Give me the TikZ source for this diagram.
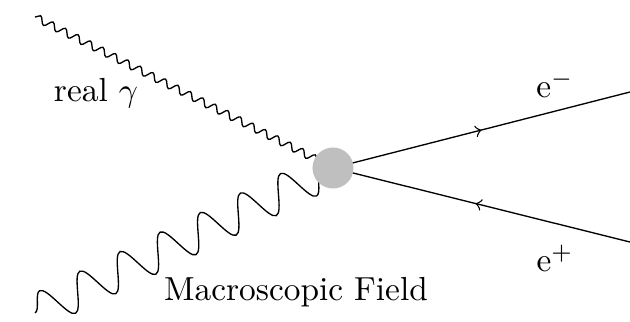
\documentclass[tikz,border=0pt]{standalone}
\usetikzlibrary{decorations.pathmorphing,decorations.markings,backgrounds}
\begin{document}
\begin{tikzpicture}[x=0.3pt,y=-0.3pt,
  line width=0.55pt,
  realphoton/.style={decorate,decoration={snake,amplitude=1.1pt,segment length=4.2pt}},
  fieldphoton/.style={decorate,decoration={snake,amplitude=5.4pt,segment length=13.4pt}},
  fermout/.style={postaction={decorate},decoration={markings,mark=at position 0.5 with {\arrow{>}}}},
  fermin/.style={postaction={decorate},decoration={markings,mark=at position 0.5 with {\arrow{<}}}},
  blob/.style={circle,fill=gray!50,inner sep=0pt,minimum size=12.3pt},
  lbl/.style={anchor=base,inner sep=0pt}]
\useasboundingbox (0,0) rectangle (630,322);
\node[blob] (v) at (333,168) {};
\coordinate (g1) at (35,17);
\coordinate (m1) at (35,313);
\coordinate (e1) at (630,92);
\coordinate (p1) at (630,242);
\begin{scope}[on background layer]
\draw[realphoton] (g1) -- (v.center);
\draw[fieldphoton] (m1) -- (v.center);
\draw[fermout] (v.center) -- (e1);
\draw[fermin] (v.center) -- (p1);
\end{scope}
\node[lbl] (lg) at (96,102) {real $\gamma$};
\node[lbl] (lm) at (296,301) {Macroscopic Field};
\node[lbl] (le) at (555,98) {e$^-$};
\node[lbl] (lp) at (555,272) {e$^+$};
\end{tikzpicture}
\end{document}
